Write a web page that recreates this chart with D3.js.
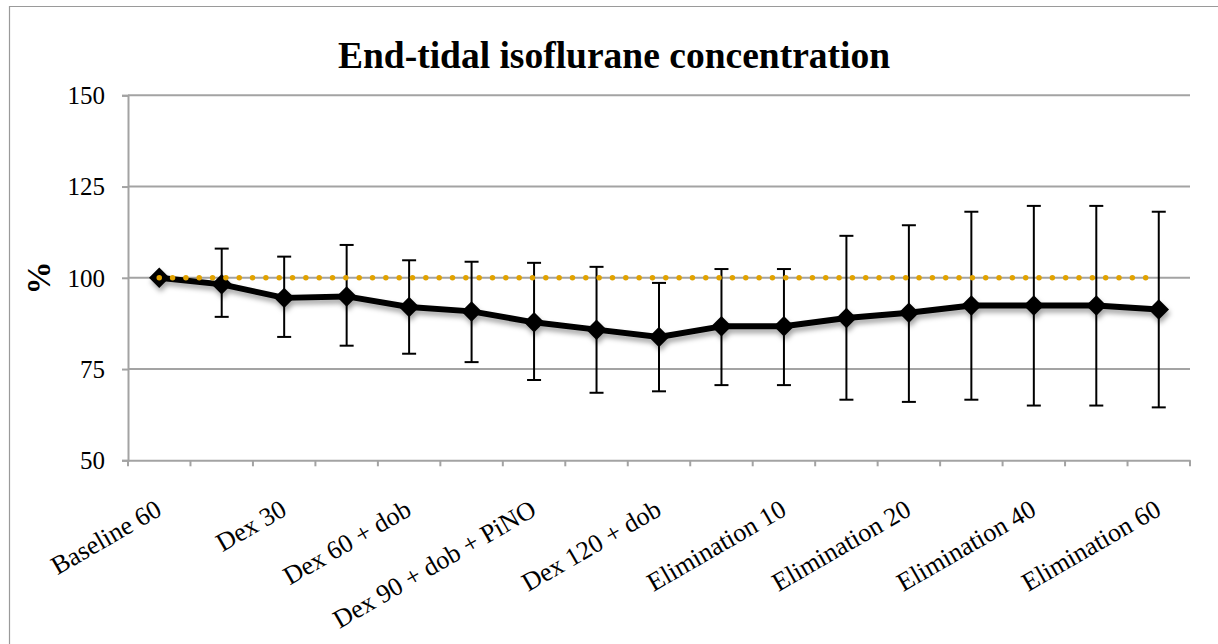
<!DOCTYPE html>
<html>
<head>
<meta charset="utf-8">
<script src="https://cdn.jsdelivr.net/npm/d3@7"></script>
<style>
  body { margin: 0; background: #fff; }
  text { font-family: "Liberation Serif", "Times New Roman", serif; }
</style>
</head>
<body>
<script>
// Chart data
const categories = ["Baseline 60", "Dex 15", "Dex 30", "Dex 45", "Dex 60 + dob", "Dex 75 + dob",
    "Dex 90 + dob + PiNO", "Dex 105 + dob", "Dex 120 + dob", "Elimination 5", "Elimination 10",
    "Elimination 15", "Elimination 20", "Elimination 30", "Elimination 40", "Elimination 50", "Elimination 60"];
const meanValues = [100, 98.2, 94.5, 94.9, 92.0, 90.8, 87.8, 85.8, 83.8, 86.7, 86.7, 89.0, 90.4, 92.4, 92.4, 92.4, 91.3];
const upperValues = [null, 108.0, 105.8, 109.0, 104.8, 104.4, 104.1, 103.0, 98.6, 102.4, 102.4, 111.5, 114.4, 118.1, 119.7, 119.7, 118.1];
const lowerValues = [null, 89.3, 83.8, 81.4, 79.2, 76.9, 72.0, 68.5, 68.9, 70.6, 70.6, 66.6, 66.0, 66.6, 65.0, 65.0, 64.5];
const referenceValues = categories.map(() => 100);
const yTicks = [50, 75, 100, 125, 150];

const W = 1218, H = 644;
const margin = { top: 95.3, right: 28, bottom: 183.7, left: 128 };
const width = W - margin.left - margin.right,
    height = H - margin.top - margin.bottom;

const root = d3.select("body").append("svg")
    .attr("width", W)
    .attr("height", H);

root.append("rect").attr("width", W).attr("height", H).attr("fill", "#fff");

// outer chart border (only top and left visible)
root.append("path")
    .attr("d", `M9.5,${H + 5} V6.5 H${W + 5}`)
    .attr("fill", "none")
    .attr("stroke", "#9a9a9a")
    .attr("stroke-width", 1.2);

const defs = root.append("defs");
const shadow = defs.append("filter").attr("id", "shadow")
    .attr("x", "-20%").attr("y", "-20%").attr("width", "140%").attr("height", "160%");
shadow.append("feDropShadow")
    .attr("dx", 1.5).attr("dy", 4).attr("stdDeviation", 2.5)
    .attr("flood-color", "#000").attr("flood-opacity", 0.35);

// title
root.append("text")
    .attr("x", 614)
    .attr("y", 68)
    .attr("text-anchor", "middle")
    .style("font-size", "37.5px")
    .style("font-weight", "bold")
    .text("End-tidal isoflurane concentration");

// y label
root.append("text")
    .attr("transform", "translate(50,278) rotate(-90)")
    .attr("text-anchor", "middle")
    .style("font-size", "33px")
    .style("font-weight", "bold")
    .text("%");

const svg = root.append("g")
    .attr("transform", `translate(${margin.left},${margin.top})`);

// scales
const x = d3.scaleBand()
    .domain(categories)
    .range([0, width])
    .padding(0);

const y = d3.scaleLinear()
    .domain([50, 150])
    .range([height, 0]);

const cx = d => x(d) + x.bandwidth() / 2;

// gridlines
svg.append("g")
    .selectAll("line")
    .data(yTicks.filter(t => t > 50))
    .join("line")
    .attr("x1", 0)
    .attr("x2", width)
    .attr("y1", d => y(d))
    .attr("y2", d => y(d))
    .attr("stroke", "#a3a3a3")
    .attr("stroke-width", 2);

// y axis
const yAxis = svg.append("g")
    .call(d3.axisLeft(y).tickValues(yTicks).tickSize(6).tickPadding(17).tickFormat(d3.format("d")));
yAxis.select(".domain").attr("stroke", "#a3a3a3").attr("stroke-width", 2);
yAxis.selectAll(".tick line").attr("stroke", "#a3a3a3").attr("stroke-width", 2);
yAxis.selectAll(".tick text")
    .attr("fill", "#000")
    .style("font-size", "25px")
    .style("font-family", "Liberation Serif, serif")
    .attr("dy", "0.33em");

// x axis
const xAxis = svg.append("g")
    .attr("transform", `translate(0,${height})`)
    .call(d3.axisBottom(x).tickSize(0).tickFormat((d, i) => i % 2 === 0 ? d : ""));
xAxis.select(".domain").attr("stroke", "#a3a3a3").attr("stroke-width", 2);
xAxis.selectAll(".tick text")
    .attr("fill", "#000")
    .style("font-size", "26px")
    .style("font-family", "Liberation Serif, serif")
    .attr("text-anchor", "end")
    .attr("x", 0)
    .attr("y", 0)
    .attr("dy", 0)
    .attr("transform", "translate(4,54) rotate(-30)");

// x tick marks at band boundaries
svg.append("g")
    .selectAll("line")
    .data(categories.map(c => x(c)).concat([width]))
    .join("line")
    .attr("x1", d => d)
    .attr("x2", d => d)
    .attr("y1", height)
    .attr("y2", height + 6)
    .attr("stroke", "#a3a3a3")
    .attr("stroke-width", 2);

// error bars
const errData = categories.map((c, i) => ({ c, hi: upperValues[i], lo: lowerValues[i] }))
    .filter(d => d.hi !== null);
const capW = 7;
const errG = svg.append("g")
    .attr("stroke", "#000")
    .attr("stroke-width", 2);
errG.selectAll(".stem")
    .data(errData)
    .join("line")
    .attr("x1", d => cx(d.c))
    .attr("x2", d => cx(d.c))
    .attr("y1", d => y(d.hi))
    .attr("y2", d => y(d.lo));
errG.selectAll(".capHi")
    .data(errData)
    .join("line")
    .attr("x1", d => cx(d.c) - capW)
    .attr("x2", d => cx(d.c) + capW)
    .attr("y1", d => y(d.hi))
    .attr("y2", d => y(d.hi));
errG.selectAll(".capLo")
    .data(errData)
    .join("line")
    .attr("x1", d => cx(d.c) - capW)
    .attr("x2", d => cx(d.c) + capW)
    .attr("y1", d => y(d.lo))
    .attr("y2", d => y(d.lo));

// mean series
const meanData = categories.map((c, i) => ({ c, v: meanValues[i] }));
const line = d3.line().x(d => cx(d.c)).y(d => y(d.v));

const meanG = svg.append("g").attr("filter", "url(#shadow)");
meanG.append("path")
    .datum(meanData)
    .attr("d", line)
    .attr("fill", "none")
    .attr("stroke", "#000")
    .attr("stroke-width", 6)
    .attr("stroke-linejoin", "round");

meanG.selectAll(".marker")
    .data(meanData)
    .join("path")
    .attr("d", d3.symbol().type(d3.symbolSquare).size(210))
    .attr("transform", d => `translate(${cx(d.c)},${y(d.v)}) rotate(45)`)
    .attr("fill", "#000");

// reference series (dotted)
const refData = categories.map((c, i) => ({ c, v: referenceValues[i] }));
svg.append("path")
    .datum(refData)
    .attr("d", line)
    .attr("fill", "none")
    .attr("stroke", "#e1a200")
    .attr("stroke-width", 5.5)
    .attr("stroke-linecap", "round")
    .attr("stroke-dasharray", "0 13.33");
</script>
</body>
</html>
